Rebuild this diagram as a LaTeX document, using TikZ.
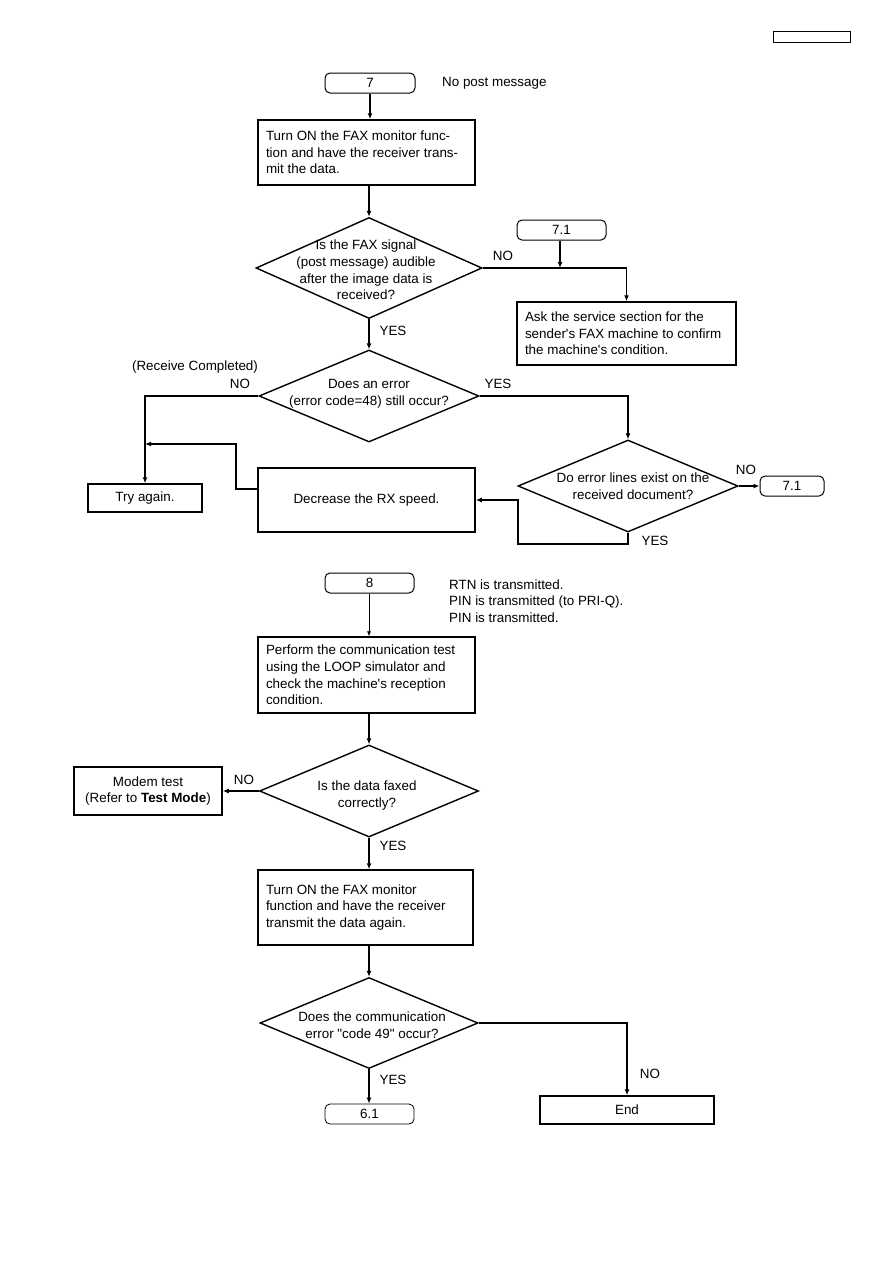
\documentclass[tikz,border=0pt]{standalone}
\usepackage{fontspec}
\setmainfont{Liberation Sans}[Ligatures=TeXOff]
\usetikzlibrary{shapes.geometric,arrows.meta,calc}
\begin{document}
\begin{tikzpicture}[x=1pt,y=-1pt,
  font=\fontsize{13.4}{16.7}\selectfont,
  pbox/.style={draw,line width=1.5pt,inner xsep=8pt,inner ysep=0pt,align=flush left},
  cbox/.style={draw,line width=1.5pt,inner sep=0pt,align=center},
  term/.style={draw,line width=1pt,rounded corners=5pt,inner sep=0pt,minimum height=20pt,align=center},
  dia/.style={draw,diamond,line width=1.4pt,inner sep=0pt},
  conn/.style={line width=1.8pt,-{Latex[length=6pt,width=5pt]}},
  plain/.style={line width=1.8pt},
  lbl/.style={inner sep=0pt}]
\useasboundingbox (0,0) rectangle (893,1263);

% header box
\node[draw,line width=1pt,minimum width=77pt,minimum height=11pt,inner sep=0pt] (hdr) at (811.5,37.5) {};

% ---------- section 7 ----------
\node[term,minimum width=90pt] (t7) at (370,83) {7};
\node[lbl,anchor=west] (nopost) at (442,83) {No post message};

\node[pbox,text width=201pt,minimum height=65pt] (b1) at (366.5,152.5)
  {Turn ON the FAX monitor func-\\tion and have the receiver trans-\\mit the data.};

\node[dia,minimum width=226pt,minimum height=101pt] (d1) at (369,268) {};
\node[lbl,align=center] (d1t) at (366,270) {Is the FAX signal\\(post message) audible\\after the image data is\\received?};

\node[term,minimum width=89pt] (t71) at (561.5,230) {7.1};
\node[lbl] (no1) at (503,256) {NO};

\node[pbox,text width=203pt,minimum height=63pt] (b2) at (626.5,333.5)
  {Ask the service section for the\\sender's FAX machine to confirm\\the machine's condition.};

\node[lbl] (yes1) at (393,331) {YES};

\node[dia,minimum width=220pt,minimum height=92pt] (d2) at (369,396) {};
\node[lbl,align=center] (d2t) at (369,393.5) {Does an error\\(error code=48) still occur?};
\node[lbl] (rc) at (195,367) {(Receive Completed)};
\node[lbl] (no2) at (240,384) {NO};
\node[lbl] (yes2) at (498,384) {YES};

\node[dia,minimum width=220pt,minimum height=92pt] (d3) at (628,486) {};
\node[lbl,align=center] (d3t) at (633,486.5) {Do error lines exist on the\\received document?};
\node[lbl] (no3) at (746,470) {NO};
\node[term,minimum width=64pt] (t71b) at (792,486) {7.1};
\node[lbl] (yes3) at (655,541) {YES};

\node[cbox,minimum width=217pt,minimum height=64pt] (dec) at (366.5,500) {Decrease the RX speed.};
\node[cbox,minimum width=114pt,minimum height=28pt] (try) at (145,498) {Try again.};

\coordinate (c1) at (518,544);
\coordinate (c2) at (236,444);

\draw[conn] (t7.south) -- (t7.south |- b1.north);
\draw[conn] (d1.north |- b1.south) -- (d1.north);
\draw[plain] (d1.east) -- (d1.east -| b2.north);
\draw[conn] (d1.east -| b2.north) -- (b2.north);
\draw[conn] (t71.south -| 560,0) -- (560,0 |- d1.east);
\draw[conn] (d1.south) -- (d2.north);
\draw[conn] (d2.west) -| (try.north);
\draw[conn] (d2.east) -| (d3.north);
\draw[conn] (d3.east) -- (t71b.west);
\draw[conn] (d3.south) |- (c1) |- (dec.east);
\draw[conn] ($(dec.west)+(0,-11)$) -| (c2) -- (try.north |- c2);

% ---------- section 8 ----------
\node[term,minimum width=89pt] (t8) at (369.5,583) {8};
\node[lbl,anchor=west,align=left] (rtn) at (449,601) {RTN is transmitted.\\PIN is transmitted (to PRI-Q).\\PIN is transmitted.};

\node[pbox,text width=201pt,minimum height=76pt] (b3) at (366.5,675)
  {Perform the communication test\\using the LOOP simulator and\\check the machine's reception\\condition.};

\node[dia,minimum width=219pt,minimum height=92pt] (d4) at (369,791) {};
\node[lbl,align=center] (d4t) at (367,795.5) {Is the data faxed\\correctly?};
\node[lbl] (no4) at (244,780) {NO};
\node[cbox,minimum width=148pt,minimum height=48pt] (modem) at (148,791) {Modem test\\(Refer to \textbf{Test Mode})};
\node[lbl] (yes4) at (393,846) {YES};

\node[pbox,text width=199pt,minimum height=75pt] (b4) at (365.5,907.5)
  {Turn ON the FAX monitor\\function and have the receiver\\transmit the data again.};

\node[dia,minimum width=218pt,minimum height=91pt] (d5) at (369,1023) {};
\node[lbl,align=center] (d5t) at (372,1025) {Does the communication\\error "code 49" occur?};
\node[lbl] (yes5) at (393,1080) {YES};
\node[lbl] (no5) at (650,1074) {NO};

\node[term,minimum width=89pt,line width=0.8pt] (t61) at (369.5,1114) {6.1};
\node[cbox,minimum width=174pt,minimum height=28pt] (endb) at (627,1110) {End};

\draw[line width=0.6pt,-{Latex[length=5pt,width=4pt]}] (t8.south -| d4.north) -- (d4.north |- b3.north);
\draw[conn] (d4.north |- b3.south) -- (d4.north);
\draw[conn] (d4.west) -- (modem.east);
\draw[conn] (d4.south) -- (d4.south |- b4.north);
\draw[conn] (d5.north |- b4.south) -- (d5.north);
\draw[conn] (d5.south) -- (d5.south |- t61.north);
\draw[conn] (d5.east) -| (endb.north);
\end{tikzpicture}
\end{document}
